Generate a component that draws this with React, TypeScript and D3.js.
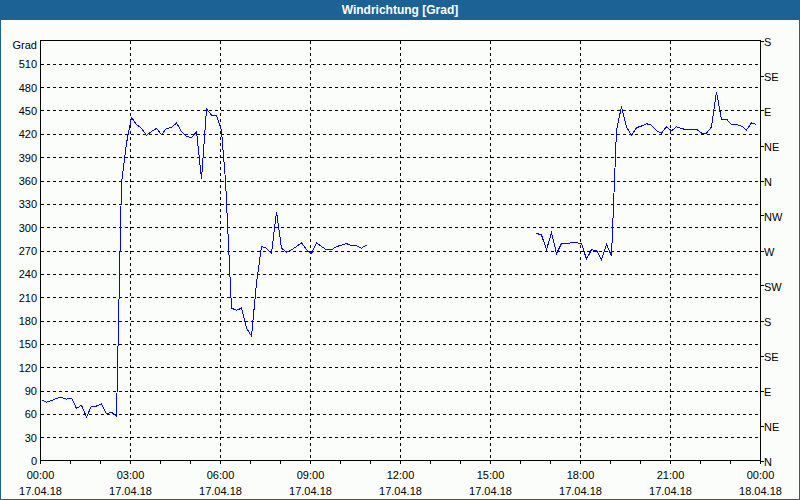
import React from "react";
import * as d3 from "d3";

// ---- data ----
const TITLE = "Windrichtung [Grad]";
const STEP_MIN = 10;
const seg1Start = "2018-04-17T00:00";
const seg1Values = [
  78, 75, 77, 80, 81, 79, 80, 67, 71, 56, 70, 70, 73, 60, 62, 57,
  357, 408, 441, 432, 427, 418, 423, 427, 419, 427, 428, 434, 423, 417, 415, 423,
  362, 452, 444, 444, 424, 360, 196, 193, 196, 170, 160, 228, 275, 273, 266, 320,
  273, 268, 271, 275, 280, 271, 266, 280, 275, 271, 271, 275, 277, 279, 276, 276,
  273, 277,
];
const seg2Start = "2018-04-17T16:30";
const seg2Values = [
  292, 290, 271, 293, 266, 279, 279, 280, 280, 279, 259, 271, 270, 258, 278, 263,
  425, 455, 429, 418, 428, 430, 433, 431, 424, 421, 429, 424, 429, 427, 425, 426,
  426, 421, 421, 429, 474, 438, 439, 432, 432, 430, 425, 434, 432,
];
const leftTicks = [0, 30, 60, 90, 120, 150, 180, 210, 240, 270, 300, 330, 360, 390, 420, 450, 480, 510];
const rightTicks = [0, 45, 90, 135, 180, 225, 270, 315, 360, 405, 450, 495, 540];
const rightLabels = ["N", "NE", "E", "SE", "S", "SW", "W", "NW", "N", "NE", "E", "SE", "S"];
const xDomain = ["2018-04-17T00:00", "2018-04-18T00:00"];
const yDomain = [0, 540];

const parse = (s: string) => new Date(s);

function toSeries(start: string, values: number[]) {
  const t0 = parse(start).getTime();
  return values.map((v, i) => ({ t: new Date(t0 + i * STEP_MIN * 60000), v }));
}

export default function App() {
  const W = 800, H = 500;
  const left = 40.5, right = 760.5, top = 40.5, bottom = 460.5;
  const x = d3.scaleTime().domain(xDomain.map(parse)).range([left, right]);
  const y = d3.scaleLinear().domain(yDomain).range([bottom, top]);
  const font = "'Liberation Sans', Arial, sans-serif";
  const line = d3
    .line<{ t: Date; v: number }>()
    .x((d) => Math.round(x(d.t)) + 0.5)
    .y((d) => y(d.v));
  const series = [toSeries(seg1Start, seg1Values), toSeries(seg2Start, seg2Values)];
  const hourTicks = d3.timeHour.range(parse(xDomain[0]), new Date(parse(xDomain[1]).getTime() + 1), 1);
  const majorTicks = d3.timeHour.range(parse(xDomain[0]), new Date(parse(xDomain[1]).getTime() + 1), 3);
  const fmtT = d3.timeFormat("%H:%M");
  const fmtD = d3.timeFormat("%d.%m.%y");
  const bg = "#fbfdfb";
  const blue = "#1d6294";
  return (
    <svg width={W} height={H} style={{ position: "absolute", left: 0, top: 0 }} fontFamily={font}>
      <rect x={0} y={0} width={W} height={H} fill={bg} />
      <rect x={0} y={0} width={W} height={20} fill={blue} />
      <rect x={0.5} y={0.5} width={W - 1} height={H - 1} fill="none" stroke={blue} strokeWidth={1} />
      <text x={W / 2} y={14} textAnchor="middle" fill="#fff" fontWeight="bold" fontSize={12}>
        {TITLE}
      </text>
      {/* grid */}
      <g stroke="#000" strokeDasharray="3,3" shapeRendering="crispEdges">
        {leftTicks.filter((v) => v > 0).map((v) => (
          <line key={"h" + v} x1={left} x2={right} y1={Math.round(y(v)) + 0.5} y2={Math.round(y(v)) + 0.5} />
        ))}
        {majorTicks
          .filter((t) => t > x.domain()[0] && t < x.domain()[1])
          .map((t) => (
            <line key={"v" + t.getTime()} x1={x(t)} x2={x(t)} y1={top} y2={bottom} />
          ))}
      </g>
      {/* frame */}
      <rect x={left} y={top} width={right - left} height={bottom - top} fill="none" stroke="#000" shapeRendering="crispEdges" />
      {/* bottom ticks */}
      <g stroke="#000" shapeRendering="crispEdges">
        {hourTicks.map((t) => (
          <line key={"bt" + t.getTime()} x1={x(t)} x2={x(t)} y1={bottom} y2={bottom + 3} />
        ))}
        {rightTicks.map((v) => (
          <line key={"rt" + v} x1={right} x2={right + 3} y1={Math.round(y(v)) + 0.5} y2={Math.round(y(v)) + 0.5} />
        ))}
      </g>
      {/* left labels */}
      <g fontSize={11} fill="#000" textAnchor="end">
        <text x={37} y={49}>Grad</text>
        {leftTicks.map((v) => (
          <text key={"ll" + v} x={37} y={y(v) + 4.5}>
            {v}
          </text>
        ))}
      </g>
      {/* right labels */}
      <g fontSize={11} fill="#000">
        {rightTicks.map((v, i) => (
          <text key={"rl" + v} x={764} y={y(v) + 5}>
            {rightLabels[i]}
          </text>
        ))}
      </g>
      {/* bottom labels */}
      <g fontSize={11} fill="#000" textAnchor="middle">
        {majorTicks.map((t) => (
          <g key={"bl" + t.getTime()}>
            <text x={x(t)} y={479}>{fmtT(t)}</text>
            <text x={x(t)} y={495}>{fmtD(t)}</text>
          </g>
        ))}
      </g>
      {/* data */}
      {series.map((s, i) => (
        <path key={"s" + i} d={line(s) || ""} fill="none" stroke="#0000ff" strokeWidth={1} shapeRendering="crispEdges" />
      ))}
    </svg>
  );
}
